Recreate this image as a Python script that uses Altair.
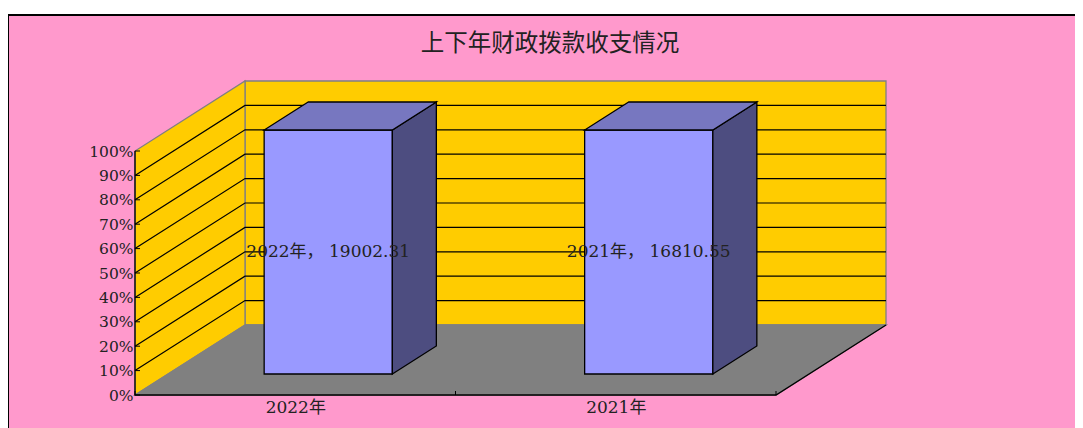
import altair as alt
import pandas as pd

# ---- values ----
CATEGORIES = ["2022年", "2021年"]
AMOUNTS = ["19002.31", "16810.55"]
SHARES = [100, 100]
PCT_TICKS = [0, 10, 20, 30, 40, 50, 60, 70, 80, 90, 100]
GRID_PCTS = [10, 20, 30, 40, 50, 60, 70, 80, 90]
TITLE = "上下年财政拨款收支情况"

# ---- pseudo-3D projection (category units, percent units) ----
UX, UY = 320.5, 2.44        # px per category, px per percent
OX, OY = 110.0, 70.0        # px offset of the back plane
X0, Y0 = 135.0, 395.0       # page px of the axis origin
W, H = 1067, 420
LATIN = "DejaVu Serif, Noto Sans CJK SC"


def pr(cat, pct, depth):
    return cat + depth * OX / UX, pct + depth * OY / UY


def vert_poly(name, fill, stroke, a, b):
    rows = []
    for (c, d, lo, hi) in (a, b):
        x, y = pr(c, lo, d)
        _, y2 = pr(c, hi, d)
        rows.append(dict(id=name, x=x, y=y, y2=y2, fill=fill, stroke=stroke))
    return rows


def horiz_poly(name, fill, stroke, pct, c0, c1, d0, d1):
    rows = []
    for d in (d0, d1):
        x, y = pr(c0, pct, d)
        x2, _ = pr(c1, pct, d)
        rows.append(dict(id=name, x=x, x2=x2, y=y, fill=fill, stroke=stroke))
    return rows


xs = alt.Scale(domain=[(8 - X0) / UX, (8 + W - X0) / UX], nice=False, zero=False)
ys = alt.Scale(domain=[(Y0 - 8 - H) / UY, (Y0 - 8) / UY], nice=False, zero=False)
X = alt.X("x:Q", scale=xs, title=None)
Y = alt.Y("y:Q", scale=ys, title=None)

N = len(CATEGORIES)

# real axes, carrying only the labels (first layer owns the axis definitions)
axes = alt.Chart(pd.DataFrame({"x": [0.0], "y": [0.0]})).mark_point(opacity=0).encode(
    x=alt.X("x:Q", scale=xs, title=None, axis=alt.Axis(
        values=[i + 0.5 for i in range(N)], grid=False, domain=False, ticks=False, zindex=1,
        labelExpr="datum.value < 1 ? '" + CATEGORIES[0] + "' : '" + CATEGORIES[1] + "'",
        labelFont=LATIN, labelFontSize=17, labelColor="#222222", labelPadding=4,
        labelOverlap=False, offset=-(8 + H - Y0), orient="bottom")),
    y=alt.Y("y:Q", scale=ys, title=None, axis=alt.Axis(
        values=PCT_TICKS, grid=False, domain=False, ticks=False, zindex=1,
        labelExpr="datum.value + '%'", labelFont=LATIN, labelFontSize=15.5,
        labelColor="#222222", labelPadding=2, labelOverlap=False,
        offset=-(X0 - 8), orient="left")),
)

# frame
frame = alt.Chart(pd.DataFrame({"a": [0]})).mark_rect(
    fill="#FF99CC", stroke="#000000", strokeWidth=2
).encode(x=alt.value(0), x2=alt.value(W + 6), y=alt.value(7), y2=alt.value(H + 6))


def vlayer(rows, sw=1.3):
    return alt.Chart(pd.DataFrame(rows)).mark_area(strokeWidth=sw, interpolate="linear").encode(
        x=X, y=Y, y2="y2:Q", detail="id:N",
        fill=alt.Fill("fill:N", scale=None), stroke=alt.Stroke("stroke:N", scale=None),
    )


def hlayer(rows, sw=1.3):
    return alt.Chart(pd.DataFrame(rows)).mark_area(strokeWidth=sw, orient="horizontal").encode(
        y=Y, x=X, x2="x2:Q", detail="id:N",
        fill=alt.Fill("fill:N", scale=None), stroke=alt.Stroke("stroke:N", scale=None),
    )


walls = vlayer(
    vert_poly("back", "#FFCC00", "#808080", (0, 1, 0, 100), (N, 1, 0, 100))
    + vert_poly("left", "#FFCC00", "#808080", (0, 0, 0, 100), (0, 1, 0, 100))
)
floor = hlayer(horiz_poly("floor", "#808080", "#808080", 0, 0, N, 0, 1))

# gridlines
grid_rows = []
for p in GRID_PCTS:
    for i, (c, d) in enumerate([(0, 0), (0, 1), (N, 1)]):
        x, y = pr(c, p, d)
        grid_rows.append(dict(g=p, o=i, x=x, y=y))
grid = alt.Chart(pd.DataFrame(grid_rows)).mark_line(color="#000000", strokeWidth=1.2).encode(
    x=X, y=Y, detail="g:N", order="o:Q"
)

# axis lines and inward ticks
edge_rows = []
for i, (c, p, d) in enumerate([(0, 100, 0), (0, 0, 0), (N, 0, 0), (N, 0, 1)]):
    x, y = pr(c, p, d)
    edge_rows.append(dict(o=i, x=x, y=y))
edges = alt.Chart(pd.DataFrame(edge_rows)).mark_line(color="#000000", strokeWidth=1.3).encode(
    x=X, y=Y, order="o:Q"
)
ytick = alt.Chart(pd.DataFrame({"y": PCT_TICKS, "x": [0.0] * 11, "x2": [5 / UX] * 11})).mark_rule(
    color="#000000", strokeWidth=1
).encode(x=X, x2="x2:Q", y=Y)
xtick = alt.Chart(pd.DataFrame({"x": [float(i) for i in range(N + 1)], "y": [0.0] * (N + 1),
                                "y2": [4 / UY] * (N + 1)})).mark_rule(
    color="#000000", strokeWidth=1
).encode(x=X, y=Y, y2="y2:Q")

# bars
B0, B1, D0, D1 = 0.3, 0.7, 0.3, 0.7
front, side, top = [], [], []
for i, s in enumerate(SHARES):
    front += vert_poly(f"f{i}", "#9999FF", "#000000", (i + B0, D0, 0, s), (i + B1, D0, 0, s))
    side += vert_poly(f"s{i}", "#4D4D80", "#000000", (i + B1, D0, 0, s), (i + B1, D1, 0, s))
    top += horiz_poly(f"t{i}", "#7777C0", "#000000", s, i + B0, i + B1, D0, D1)
bars = vlayer(front + side)
tops = hlayer(top)

# value labels
lab_rows = []
for i, (cat, amt, s) in enumerate(zip(CATEGORIES, AMOUNTS, SHARES)):
    x, y = pr(i + 0.5, s / 2, D0)
    lab_rows.append(dict(x=x, y=y, t=f"{cat}， {amt}"))
labels = alt.Chart(pd.DataFrame(lab_rows)).mark_text(
    font=LATIN, fontSize=17, color="#222222", align="center", baseline="middle"
).encode(x=X, y=Y, text="t:N")

chart = alt.layer(axes, frame, walls, floor, grid, edges, ytick, xtick, bars, tops, labels).properties(
    width=W, height=H, padding=0, autosize=alt.AutoSizeParams(type="none"),
    background="#FFFFFF",
    title=alt.TitleParams(TITLE, font="Noto Sans CJK SC", fontSize=23.5, fontWeight="normal",
                          color="#222222", anchor="middle", dx=8.5, dy=51),
).configure_view(stroke=None)

chart.save("out.html", embed_options={"renderer": "svg", "actions": False})
